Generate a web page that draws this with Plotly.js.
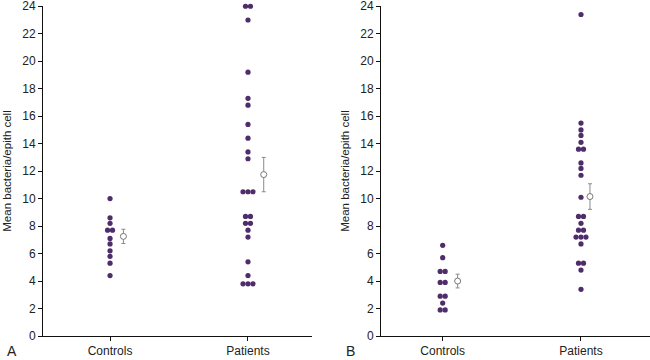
<!DOCTYPE html>
<html>
<head>
<meta charset="utf-8">
<script src="https://cdn.plot.ly/plotly-3.0.1.min.js"></script>
<style>html,body{margin:0;padding:0;background:#fff;}#chart{width:650px;height:360px;}</style>
</head>
<body>
<div id="chart"></div>
<script>
// ---- Data ----
const categories = ['Controls', 'Patients'];
const panelLabels = ['A', 'B'];
const yTitle = 'Mean bacteria/epith cell';
const yTicks = [0, 2, 4, 6, 8, 10, 12, 14, 16, 18, 20, 22, 24];

const controlsA = [10.0, 8.6, 8.2, 7.7, 7.7, 7.1, 6.7, 6.2, 5.8, 5.3, 4.4];
const patientsA = [24.0, 24.0, 23.0, 19.2, 17.3, 16.8, 15.4, 14.4, 13.4, 12.9,
                   10.5, 10.5, 10.5, 8.7, 8.7, 8.2, 8.2, 7.7, 7.2, 5.4, 4.4, 3.8, 3.8, 3.8];
const meanA = [7.25, 11.75];
const semA = [0.52, 1.25];

const controlsB = [6.6, 5.7, 4.7, 4.7, 3.9, 3.9, 2.9, 2.9, 2.4, 1.9, 1.9];
const patientsB = [23.4, 15.5, 15.0, 14.6, 14.1, 13.6, 13.6, 12.6, 12.2, 11.7, 10.1,
                   8.7, 8.7, 8.2, 7.7, 7.7, 7.2, 7.2, 7.2, 6.7, 5.3, 5.3, 4.8, 3.4];
const meanB = [4.0, 10.15];
const semB = [0.5, 0.93];

// ---- Styling / layout helpers ----
const DOT = '#4f2c6a';
const SPACING = 0.036;           // horizontal offset between tied dots (axis units)
const meanOffsetA = [0.097, 0.114];
const meanOffsetB = [0.108, 0.065];

function swarmX(values, center) {
  const groups = {};
  values.forEach((v, i) => { (groups[v] = groups[v] || []).push(i); });
  const xs = new Array(values.length);
  Object.values(groups).forEach(idx => {
    const n = idx.length;
    idx.forEach((i, k) => { xs[i] = center + (k - (n - 1) / 2) * SPACING; });
  });
  return xs;
}

function dots(vals, center, xa, ya) {
  return {x: swarmX(vals, center), y: vals, xaxis: xa, yaxis: ya, type: 'scatter', mode: 'markers',
          marker: {color: DOT, size: 5.2}, cliponaxis: false, hoverinfo: 'y', showlegend: false};
}
function means(m, s, offs, xa, ya) {
  return {x: [0 + offs[0], 1 + offs[1]], y: m, xaxis: xa, yaxis: ya, type: 'scatter', mode: 'markers',
          error_y: {type: 'data', array: s, visible: true, color: '#8a8a8a', thickness: 1, width: 2},
          marker: {color: '#fff', size: 6, line: {color: '#777', width: 1}},
          cliponaxis: false, showlegend: false};
}

const data = [
  dots(controlsA, 0, 'x', 'y'), dots(patientsA, 1, 'x', 'y'), means(meanA, semA, meanOffsetA, 'x', 'y'),
  dots(controlsB, 0, 'x2', 'y2'), dots(patientsB, 1, 'x2', 'y2'), means(meanB, semB, meanOffsetB, 'x2', 'y2')
];

const font = {family: 'Arial, "Liberation Sans", Helvetica, sans-serif', size: 12, color: '#222'};
function xax(domain, range, anchor) {
  return {domain: domain, range: range, anchor: anchor, type: 'linear', tickvals: [0, 1], ticktext: categories,
          showline: true, linecolor: '#111', linewidth: 1, ticks: 'outside', ticklen: 4, tickcolor: '#111',
          showgrid: false, zeroline: false, tickfont: {size: 12}, fixedrange: true};
}
function yax(anchor) {
  return {domain: [0, 1], range: [0, 24.02], anchor: anchor, tickmode: 'array', tickvals: yTicks,
          ticktext: yTicks.map(String),
          showline: true, linecolor: '#111', linewidth: 1, ticks: 'outside', ticklen: 4, tickcolor: '#111',
          showgrid: false, zeroline: false, tickfont: {size: 12},
          title: {text: yTitle, font: {size: 11.5}, standoff: 8}, automargin: false};
}

const layout = {
  width: 650, height: 360,
  margin: {l: 0, r: 0, t: 6, b: 24, pad: 0},
  paper_bgcolor: '#fff', plot_bgcolor: '#fff',
  font: font, showlegend: false,
  xaxis: xax([43 / 650, 312 / 650], [-0.486, 1.464], 'y'),
  yaxis: yax('x'),
  xaxis2: xax([381 / 650, 1], [-0.446, 1.499], 'y2'),
  yaxis2: yax('x2'),
  annotations: [
    {text: panelLabels[0], xref: 'paper', yref: 'paper', x: 12 / 650, y: -15 / 330, xanchor: 'center', yanchor: 'middle',
     showarrow: false, font: {size: 14, color: '#222'}},
    {text: panelLabels[1], xref: 'paper', yref: 'paper', x: 350 / 650, y: -15 / 330, xanchor: 'center', yanchor: 'middle',
     showarrow: false, font: {size: 14, color: '#222'}}
  ]
};

Plotly.newPlot('chart', data, layout, {displayModeBar: false, staticPlot: true}).then(() => {
  // Plotly hides the top tick label because it touches the paper edge; the reference shows it.
  document.querySelectorAll('.ytick text, .y2tick text').forEach(t => { t.style.display = ''; });
});
</script>
</body>
</html>
